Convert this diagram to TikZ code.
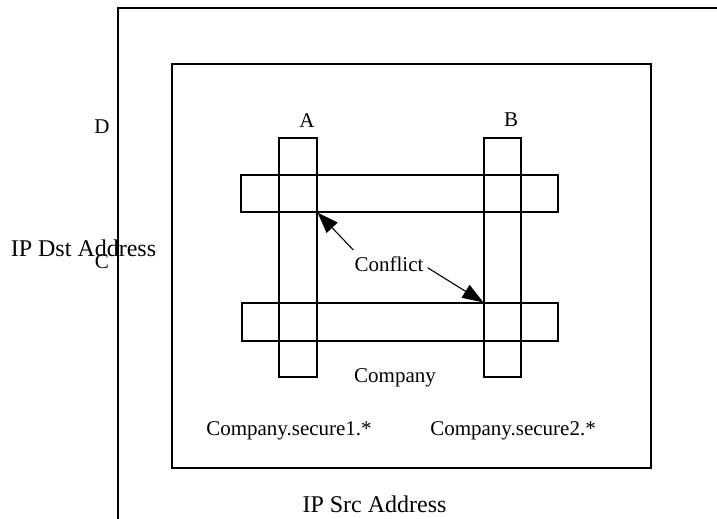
\documentclass[tikz,border=0pt]{standalone}
\usepackage{fontspec}
\setmainfont{Liberation Serif}
\usetikzlibrary{arrows.meta,calc}
\begin{document}
\begin{tikzpicture}[x=1pt,y=-1pt,
  frameline/.style={line width=1.3pt,black},
  bar/.style={draw,line width=1.2pt,rectangle,inner sep=0pt},
  lbl/.style={font=\fontsize{21}{25}\selectfont,anchor=base,inner sep=2pt},
  axis/.style={font=\fontsize{24}{28}\selectfont,anchor=base,inner sep=0pt},
  conflictarrow/.style={line width=1.1pt,-{Triangle[length=21pt,width=15pt]}}]
\useasboundingbox (0,0) rectangle (717,519);
% outer frame (top and left edges)
\coordinate (otr) at (717,8);
\coordinate (otl) at (118,8);
\coordinate (obl) at (118,519);
\draw[frameline] (otr) -- (otl) -- (obl);
% inner frame
\node[bar,minimum width=479pt,minimum height=404pt] (inner) at (411.5,266) {};
% bars
\node[bar,minimum width=38pt,minimum height=239pt] (barA) at (298,257.5) {};
\node[bar,minimum width=37pt,minimum height=239pt] (barB) at (502.5,257.5) {};
\node[bar,minimum width=317pt,minimum height=37pt] (hbar1) at (399.5,193.5) {};
\node[bar,minimum width=316pt,minimum height=38pt] (hbar2) at (400,322) {};
% labels
\node[lbl] (la) at (307,127) {A};
\node[lbl] (lb) at (511,126) {B};
\node[lbl] (ld) at (102,133) {D};
\node[axis] (dst) at (83.5,256) {IP Dst Address};
\node[lbl] (lc) at (102,268) {C};
\node[lbl] (conf) at (389,271) {Conflict};
\node[lbl] (comp) at (395,382) {Company};
\node[lbl] (s1) at (289,435) {Company.secure1.*};
\node[lbl] (s2) at (513,435) {Company.secure2.*};
\node[axis] (src) at (374.5,512) {IP Src Address};
% conflict arrows
\coordinate (tip1) at (barA.east |- hbar1.south);
\coordinate (tip2) at (barB.west |- hbar2.north);
\draw[conflictarrow] ($(conf.north west)+(1,-4)$) -- (tip1);
\draw[conflictarrow] ($(conf.east)+(2,4)$) -- (tip2);
\end{tikzpicture}
\end{document}
